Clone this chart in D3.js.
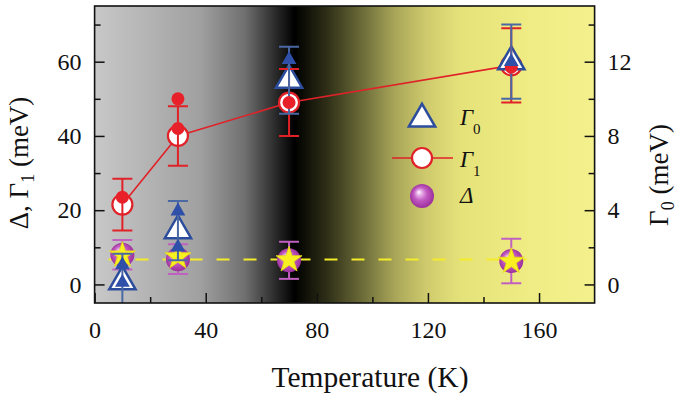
<!DOCTYPE html>
<html>
<head>
<meta charset="utf-8">
<script src="https://cdn.jsdelivr.net/npm/d3@7"></script>
<style>
html,body{margin:0;padding:0;background:#fff;}
svg{display:block;font-family:"Liberation Serif","Times New Roman",serif;}
</style>
</head>
<body>
<svg id="chart" width="685" height="400"></svg>
<script>
// ---------- data ----------
const temps = [10, 30, 70, 150];
const gamma1 = [21.5, 40, 49, 59];
const gamma1Err = [7, 8, 9, 10];
const gamma0 = [0.15, 2.9, 11.0, 12.0];
const gamma0Err = [1.5, 1.6, 1.8, 2.0];
const delta = [8.0, 6.8, 6.5, 6.3];
const deltaErr = [4, 4, 5, 6];
const deltaStar = [7.9, 7.4, 6.6, 6.2];
const gamma1FilledT = [10, 30, 30, 70, 150];
const gamma1Filled = [23.5, 50, 42, 49, 58.5];
const gamma0FilledT = [10, 10, 30, 30, 70, 150];
const gamma0Filled = [1.05, 0.1, 3.95, 2.0, 12.1, 12.0];
const deltaLevel = 6.7;
const deltaLevelRange = [5, 160];
const xTicks = [0, 40, 80, 120, 160];
const xMinor = [20, 60, 100, 140];
const yLeftTicks = [0, 20, 40, 60];
const yLeftMinor = [10, 30, 50, 70];
const yRightTicks = [0, 4, 8, 12];
const yRightMinor = [2, 6, 10, 14];
const bgStopsT = [0, 38, 54, 66, 72, 84, 96, 108, 120, 132, 156, 180];
const bgStopsC = ["#c8c8c8","#a0a0a0","#707070","#252525","#000000","#303018","#6a6a38","#a8a558","#d0cc6e","#e6e27a","#f0ec84","#f4f08c"];

// ---------- layout ----------
const W = 685, H = 400;
const m = {l: 94.6, r: 90.4, t: 6, b: 97};
const svg = d3.select("#chart");
const x = d3.scaleLinear([0, 180], [m.l, W - m.r]);
const yL = d3.scaleLinear([-5, 75], [H - m.b, m.t]);
const yR = d3.scaleLinear([-1, 15], [H - m.b, m.t]);

const defs = svg.append("defs");
const lg = defs.append("linearGradient").attr("id","bg")
  .attr("gradientUnits","userSpaceOnUse")
  .attr("x1", x(0)).attr("x2", x(180)).attr("y1",0).attr("y2",0);
bgStopsT.forEach((t,i)=>lg.append("stop").attr("offset", (t/180)).attr("stop-color", bgStopsC[i]));
const rg = defs.append("radialGradient").attr("id","sph").attr("cx","50%").attr("cy","50%").attr("r","55%").attr("fx","36%").attr("fy","33%");
[[0,"#ffffff"],[0.18,"#eab6ea"],[0.5,"#c25ac2"],[1,"#962896"]].forEach(s=>rg.append("stop").attr("offset",s[0]).attr("stop-color",s[1]));
defs.append("clipPath").attr("id","clip").append("rect")
  .attr("x", x(0)).attr("y", m.t).attr("width", x(180)-x(0)).attr("height", yL(-5)-m.t);

svg.append("rect").attr("x", x(0)).attr("y", m.t).attr("width", x(180)-x(0)).attr("height", yL(-5)-m.t).attr("fill","url(#bg)");

const g = svg.append("g").attr("clip-path","url(#clip)");

// dashed Delta level
g.append("line").attr("x1", x(deltaLevelRange[0])).attr("x2", x(deltaLevelRange[1]))
  .attr("y1", yL(deltaLevel)).attr("y2", yL(deltaLevel))
  .attr("stroke","#f4ec28").attr("stroke-width",2).attr("stroke-dasharray","13,14");

function errBars(sel, vals, errs, scale, color){
  const eg = sel.append("g").attr("stroke", color).attr("stroke-width", 2).attr("fill","none");
  temps.forEach((t,i)=>{
    const cx = x(t), y1 = scale(vals[i]+errs[i]), y2 = scale(vals[i]-errs[i]);
    eg.append("line").attr("x1",cx).attr("x2",cx).attr("y1",y1).attr("y2",y2);
    eg.append("line").attr("x1",cx-10).attr("x2",cx+10).attr("y1",y1).attr("y2",y1);
    eg.append("line").attr("x1",cx-10).attr("x2",cx+10).attr("y1",y2).attr("y2",y2);
  });
}

// Delta: error bars, spheres, stars
errBars(g, delta, deltaErr, yL, "#c060c0");
g.selectAll(".sph").data(temps).join("circle").attr("class","sph")
  .attr("cx", d=>x(d)).attr("cy", (d,i)=>yL(delta[i])).attr("r", 12).attr("fill","url(#sph)");
const star = d3.symbol().type(d3.symbolStar).size(210);
g.selectAll(".star").data(temps).join("path").attr("class","star")
  .attr("d", star).attr("transform", (d,i)=>`translate(${x(d)},${yL(deltaStar[i])})`)
  .attr("fill","#f8f020").attr("stroke","#e6dc10").attr("stroke-width",0.8);

// Gamma1 line + open circles
g.append("path").datum(temps).attr("fill","none").attr("stroke","#e02228").attr("stroke-width",1.6)
  .attr("d", d3.line().x(d=>x(d)).y((d,i)=>yL(gamma1[i])));
g.selectAll(".oc").data(temps).join("circle").attr("class","oc")
  .attr("cx", d=>x(d)).attr("cy",(d,i)=>yL(gamma1[i])).attr("r",10)
  .attr("fill","#fff").attr("stroke","#e02228").attr("stroke-width",2.2);

// Gamma0 open triangles
const triBig = d3.symbol().type(d3.symbolTriangle).size(300);
g.selectAll(".ot").data(temps).join("path").attr("class","ot")
  .attr("d", triBig).attr("transform",(d,i)=>`translate(${x(d)},${yR(gamma0[i])})`)
  .attr("fill","#fff").attr("stroke","#2c4c9c").attr("stroke-width",2.5).attr("stroke-linejoin","miter");

// error bars Gamma1 and Gamma0
errBars(g, gamma1, gamma1Err, yL, "#e02228");
errBars(g, gamma0, gamma0Err, yR, "#4a68a4");

// filled markers
g.selectAll(".fc").data(gamma1FilledT).join("circle").attr("class","fc")
  .attr("cx", d=>x(d)).attr("cy",(d,i)=>yL(gamma1Filled[i])).attr("r",6.5).attr("fill","#e8202a");
const triSmall = d3.symbol().type(d3.symbolTriangle).size(95);
g.selectAll(".ft").data(gamma0FilledT).join("path").attr("class","ft")
  .attr("d", triSmall).attr("transform",(d,i)=>`translate(${x(d)},${yR(gamma0Filled[i])})`)
  .attr("fill","#2e50a8");

// ---------- axes ----------
const fs = 24;
function styleAxis(a){
  a.select(".domain").remove();
  a.selectAll(".tick line").attr("stroke","#111").attr("stroke-width",1.5);
  a.selectAll(".tick text").attr("font-size", fs).attr("fill","#111").attr("font-family","Liberation Serif, Times New Roman, serif");
}
const ax1 = svg.append("g").attr("transform",`translate(0,${yL(-5)})`)
  .call(d3.axisBottom(x).tickValues(xTicks).tickSize(-10).tickPadding(18).tickFormat(d3.format("d")));
styleAxis(ax1);
const ax1m = svg.append("g").attr("transform",`translate(0,${yL(-5)})`)
  .call(d3.axisBottom(x).tickValues(xMinor).tickSize(-6).tickFormat(""));
styleAxis(ax1m);
const ay1 = svg.append("g").attr("transform",`translate(${x(0)},0)`)
  .call(d3.axisLeft(yL).tickValues(yLeftTicks).tickSize(-10).tickPadding(13).tickFormat(d3.format("d")));
styleAxis(ay1);
const ay1m = svg.append("g").attr("transform",`translate(${x(0)},0)`)
  .call(d3.axisLeft(yL).tickValues(yLeftMinor).tickSize(-6).tickFormat(""));
styleAxis(ay1m);
const ay2 = svg.append("g").attr("transform",`translate(${x(180)},0)`)
  .call(d3.axisRight(yR).tickValues(yRightTicks).tickSize(-10).tickPadding(13).tickFormat(d3.format("d")));
styleAxis(ay2);
const ay2m = svg.append("g").attr("transform",`translate(${x(180)},0)`)
  .call(d3.axisRight(yR).tickValues(yRightMinor).tickSize(-6).tickFormat(""));
styleAxis(ay2m);

svg.append("rect").attr("x", x(0)).attr("y", m.t).attr("width", x(180)-x(0)).attr("height", yL(-5)-m.t)
  .attr("fill","none").attr("stroke","#111").attr("stroke-width",1.6);

// axis titles
const tf = 27;
svg.append("text").attr("x", 370).attr("y", 387).attr("text-anchor","middle")
  .attr("font-size", 29.5).attr("fill","#111").text("Temperature (K)");
const lt = svg.append("text").attr("transform","translate(28,163) rotate(-90)").attr("text-anchor","middle")
  .attr("font-size", tf).attr("fill","#111");
lt.append("tspan").text("Δ, Γ");
lt.append("tspan").attr("font-size", 18).attr("dy", 6).text("1");
lt.append("tspan").attr("dy", -6).text(" (meV)");
const rt = svg.append("text").attr("transform","translate(668,175) rotate(-90)").attr("text-anchor","middle")
  .attr("font-size", tf).attr("fill","#111");
rt.append("tspan").text("Γ");
rt.append("tspan").attr("font-size", 18).attr("dy", 6).text("0");
rt.append("tspan").attr("dy", -6).text(" (meV)");

// ---------- legend ----------
const legLabels = ["Γ", "Γ", "Δ"];
const legSubs = ["0", "1", ""];
const legY = [116, 158, 196];
const lgx = 422;
const leg = svg.append("g");
leg.append("path").attr("d", triBig).attr("transform",`translate(${lgx},${legY[0]+3})`)
  .attr("fill","#fff").attr("stroke","#2c4c9c").attr("stroke-width",2.5);
leg.append("line").attr("x1", 392).attr("x2", 453).attr("y1", legY[1]).attr("y2", legY[1])
  .attr("stroke","#e02228").attr("stroke-width",1.6);
leg.append("circle").attr("cx", lgx).attr("cy", legY[1]).attr("r",10)
  .attr("fill","#fff").attr("stroke","#e02228").attr("stroke-width",2.2);
leg.append("circle").attr("cx", lgx).attr("cy", legY[2]).attr("r",12).attr("fill","url(#sph)");
legLabels.forEach((lab,i)=>{
  const t = leg.append("text").attr("x", 460).attr("y", legY[i]+ (i===2?7:9)).attr("font-size", 23).attr("fill","#111");
  t.append("tspan").attr("font-style","italic").text(lab);
  if (legSubs[i]) t.append("tspan").attr("font-size", 15).attr("dy", 9).text(legSubs[i]);
});
</script>
</body>
</html>
